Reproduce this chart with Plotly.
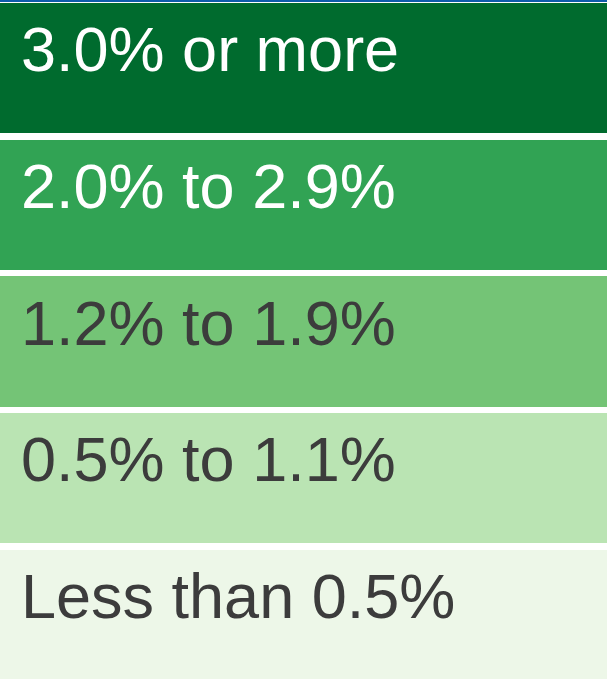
import plotly.graph_objects as go

labels = ["3.0% or more", "2.0% to 2.9%", "1.2% to 1.9%", "0.5% to 1.1%", "Less than 0.5%"]
band_value = [1, 1, 1, 1, 1]
colors = ["#006B2E", "#31A354", "#74C476", "#BAE4B3", "#EDF7E8"]
text_colors = ["#FFFFFF", "#FFFFFF", "#3C3C3C", "#3C3C3C", "#3C3C3C"]
positions = list(range(len(labels)))

fig = go.Figure()
fig.add_trace(go.Bar(
    y=positions, x=band_value, orientation="h", width=0.953,
    marker=dict(color=colors, line=dict(width=0)),
    hoverinfo="skip", showlegend=False,
))

for p, lab, tc in zip(positions, labels, text_colors):
    fig.add_annotation(
        x=0, xref="x", y=p, yref="y", text=lab, showarrow=False,
        xanchor="left", yanchor="middle", xshift=19, yshift=19,
        font=dict(family="Liberation Sans, Arial, sans-serif", size=63, color=tc),
    )

fig.update_layout(
    width=607, height=679,
    margin=dict(l=0, r=0, t=2, b=0),
    paper_bgcolor="#0F5CAB", plot_bgcolor="#FFFFFF",
    xaxis=dict(range=[0, 1], visible=False, fixedrange=True),
    yaxis=dict(range=[4.47, -0.4846], visible=False, fixedrange=True),
    bargap=0,
)
fig.write_html(
    "out.html",
    config={"displayModeBar": False},
    post_script="document.body.style.margin='0';document.body.style.padding='0';document.body.style.overflow='hidden';",
)
